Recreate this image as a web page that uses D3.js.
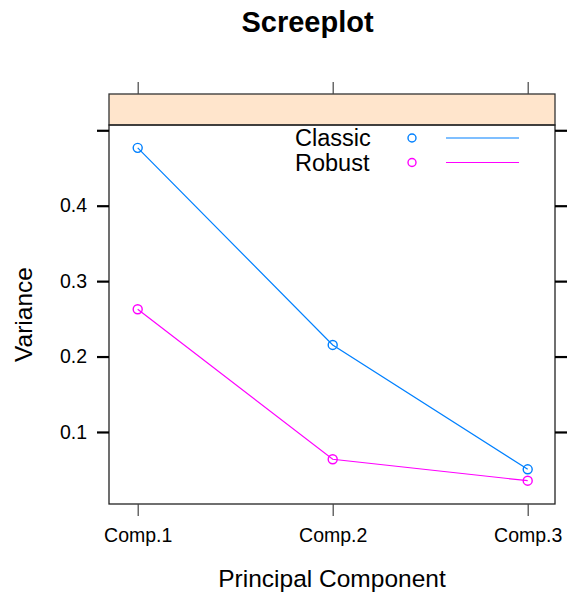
<!DOCTYPE html>
<html>
<head>
<meta charset="utf-8">
<script src="https://cdn.jsdelivr.net/npm/d3@7"></script>
<style>
  body { margin: 0; background: #fff; }
  text { font-family: "Liberation Sans", Arial, sans-serif; fill: #000; }
</style>
</head>
<body>
<svg class="scree"></svg>
<script>
const components = ['Comp.1', 'Comp.2', 'Comp.3'];
const classicVar = [0.4767, 0.2154, 0.0505];
const robustVar = [0.2627, 0.0638, 0.0354];
const yTicks = [0.1, 0.2, 0.3, 0.4, 0.5];
const yTickLabels = ['0.1', '0.2', '0.3', '0.4', ''];
const seriesNames = ['Classic', 'Robust'];
const seriesColors = ['#0080ff', '#ff00ff'];

const W = 567, H = 597;
const panel = { left: 109, right: 555, top: 125, bottom: 504 };
const stripTop = 94;

const svg = d3.select('.scree')
  .attr('width', W)
  .attr('height', H);

const x = d3.scalePoint()
  .domain(components)
  .range([137.7, 527.7]);

const y = d3.scaleLinear()
  .domain([0.0045, 0.507])
  .range([panel.bottom, panel.top]);

// title
svg.append('text')
  .attr('x', 307.5)
  .attr('y', 32)
  .attr('text-anchor', 'middle')
  .style('font-size', '29px')
  .style('font-weight', 'bold')
  .text('Screeplot');

// strip
svg.append('rect')
  .attr('x', panel.left)
  .attr('y', stripTop)
  .attr('width', panel.right - panel.left)
  .attr('height', panel.top - stripTop)
  .attr('fill', '#ffe5cc')
  .attr('stroke', '#333')
  .attr('stroke-width', 1.3);

// panel box
svg.append('rect')
  .attr('x', panel.left)
  .attr('y', panel.top)
  .attr('width', panel.right - panel.left)
  .attr('height', panel.bottom - panel.top)
  .attr('fill', 'none')
  .attr('stroke', '#222')
  .attr('stroke-width', 1.3);

// left axis
const yAxisL = d3.axisLeft(y)
  .tickValues(yTicks)
  .tickSize(12)
  .tickPadding(10)
  .tickFormat((d, i) => yTickLabels[i]);

const gl = svg.append('g')
  .attr('transform', `translate(${panel.left},0)`)
  .call(yAxisL);
gl.select('.domain').remove();
gl.selectAll('line').attr('stroke', '#000').attr('stroke-width', 2.2);
gl.selectAll('text')
  .attr('font-family', null)
  .style('font-size', '19.5px');

// right axis (ticks only)
const gr = svg.append('g')
  .attr('transform', `translate(${panel.right},0)`)
  .call(d3.axisRight(y).tickValues(yTicks).tickSize(12).tickFormat(''));
gr.select('.domain').remove();
gr.selectAll('line').attr('stroke', '#000').attr('stroke-width', 2.2);

// bottom axis
const gb = svg.append('g')
  .attr('transform', `translate(0,${panel.bottom})`)
  .call(d3.axisBottom(x).tickSize(12).tickPadding(12));
gb.select('.domain').remove();
gb.selectAll('line').attr('stroke', '#444').attr('stroke-width', 1.2);
gb.selectAll('text')
  .attr('font-family', null)
  .style('font-size', '19.5px');

// top axis (ticks only, above the strip)
const gt = svg.append('g')
  .attr('transform', `translate(0,${stripTop})`)
  .call(d3.axisTop(x).tickSize(12).tickFormat(''));
gt.select('.domain').remove();
gt.selectAll('line').attr('stroke', '#444').attr('stroke-width', 1.2);

// axis titles
svg.append('text')
  .attr('x', (panel.left + panel.right) / 2)
  .attr('y', 587)
  .attr('text-anchor', 'middle')
  .style('font-size', '24.5px')
  .text('Principal Component');

svg.append('text')
  .attr('transform', `translate(32,${(panel.top + panel.bottom) / 2}) rotate(-90)`)
  .attr('text-anchor', 'middle')
  .style('font-size', '24.5px')
  .text('Variance');

// series
const series = [classicVar, robustVar].map((vals, i) => ({
  name: seriesNames[i],
  color: seriesColors[i],
  values: components.map((c, j) => ({ comp: c, v: vals[j] }))
}));

const line = d3.line()
  .x(d => x(d.comp))
  .y(d => y(d.v));

const sg = svg.selectAll('g.series')
  .data(series)
  .enter()
  .append('g')
  .attr('class', 'series');

sg.append('path')
  .attr('d', d => line(d.values))
  .attr('fill', 'none')
  .attr('stroke', d => d.color)
  .attr('stroke-width', 1.2);

sg.selectAll('circle')
  .data(d => d.values.map(p => ({ ...p, color: d.color })))
  .enter()
  .append('circle')
  .attr('cx', d => x(d.comp))
  .attr('cy', d => y(d.v))
  .attr('r', 4.5)
  .attr('fill', 'none')
  .attr('stroke', d => d.color)
  .attr('stroke-width', 1.4);

// legend
const legend = svg.append('g')
  .attr('transform', 'translate(0,138)');

const items = legend.selectAll('g')
  .data(series)
  .enter()
  .append('g')
  .attr('transform', (d, i) => `translate(0,${i * 24.5})`);

items.append('text')
  .attr('x', 295)
  .attr('y', 8)
  .style('font-size', '23.5px')
  .text(d => d.name);

items.append('circle')
  .attr('cx', 412)
  .attr('cy', 0)
  .attr('r', 4)
  .attr('fill', 'none')
  .attr('stroke', d => d.color)
  .attr('stroke-width', 1.4);

items.append('line')
  .attr('x1', 446)
  .attr('x2', 519)
  .attr('y1', 0)
  .attr('y2', 0)
  .attr('stroke', d => d.color)
  .attr('stroke-width', 1.2);
</script>
</body>
</html>
